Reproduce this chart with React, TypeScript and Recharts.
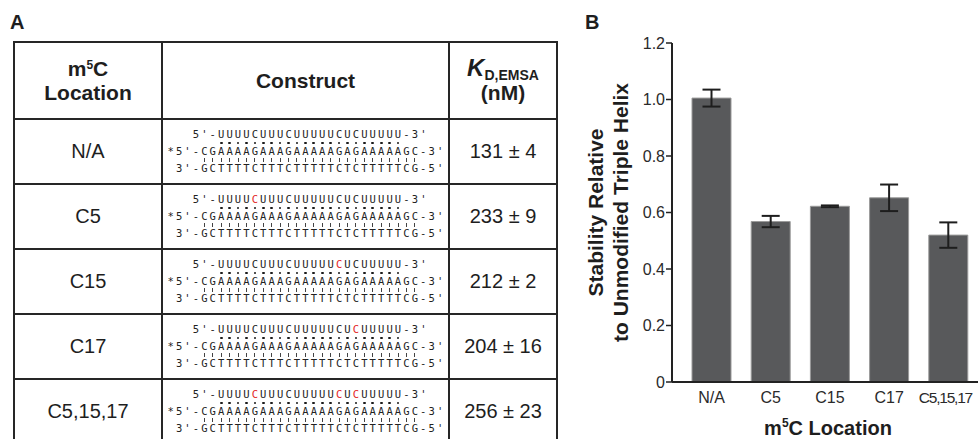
import { BarChart, Bar, XAxis, YAxis, ErrorBar, Label } from 'recharts'

// panel A table
const locations = ['N/A', 'C5', 'C15', 'C17', 'C5,15,17']
const kdMean = [131, 233, 212, 204, 256]
const kdErr = [4, 9, 2, 16, 23]
const m5cSites = [[], [5], [15], [17], [5, 15, 17]]

const hoogsteenStrand = 'UUUUCUUUCUUUUUCUCUUUUU'
const purineStrand = 'CGAAAAGAAAGAAAAAGAGAAAAAGC'
const bottomStrand = 'GCTTTTCTTTCTTTTTCTCTTTTTCG'

// panel B bars
const stability = [1.005, 0.568, 0.622, 0.652, 0.52]
const stabilityErr = [0.03, 0.02, 0.003, 0.047, 0.045]
const yTicks = [0, 0.2, 0.4, 0.6, 0.8, 1.0, 1.2]

const chartData = locations.map((loc, i) => ({ loc, value: stability[i], err: stabilityErr[i] }))

const SANS = '"Liberation Sans", Arial, Helvetica, sans-serif'
const MONO = '"DejaVu Sans Mono", monospace'
const INK = '#1e1e1e'
const RED = '#e3241d'
const CH = 8.43
const cellBorder = '2px solid #262626'

function Chars({ text, offset, red = [] }: { text: string; offset: number; red?: number[] }) {
  return (
    <div style={{ height: 11, lineHeight: '11px', display: 'flex', alignItems: 'center', marginLeft: offset * CH }}>
      {[...text].map((c, i) => (
        <span key={i} style={{ width: CH, flex: 'none', textAlign: 'center', color: red.includes(i) ? RED : '#222' }}>
          {c}
        </span>
      ))}
    </div>
  )
}

function Marks({ count, offset, kind }: { count: number; offset: number; kind: 'dot' | 'bar' }) {
  return (
    <div style={{ height: 6, display: 'flex', alignItems: 'center', marginLeft: offset * CH }}>
      {Array.from({ length: count }, (_, i) => (
        <span key={i} style={{ width: CH, flex: 'none', display: 'flex', justifyContent: 'center' }}>
          {kind === 'dot' ? (
            <span style={{ width: 2.7, height: 2.7, borderRadius: '50%', background: '#1a1a1a' }} />
          ) : (
            <span style={{ width: 1, height: 4, background: '#444' }} />
          )}
        </span>
      ))}
    </div>
  )
}

function Construct({ sites }: { sites: number[] }) {
  // site numbers are 1-based on the U strand, which sits after "5'-"
  const red = sites.map((s) => s - 1 + 3)
  return (
    <div style={{ width: 33 * CH, margin: '0 auto', fontFamily: MONO, fontSize: 10.5 }}>
      <Chars text={`5'-${hoogsteenStrand}-3'`} offset={3} red={red} />
      <Marks count={hoogsteenStrand.length} offset={6} kind="dot" />
      <Chars text={`*5'-${purineStrand}-3'`} offset={0} />
      <Marks count={purineStrand.length} offset={4} kind="bar" />
      <Chars text={`3'-${bottomStrand}-5'`} offset={1} />
    </div>
  )
}

function LocTick(props: any) {
  const { x, y, payload } = props
  const s = String(payload.value)
  const long = s.length > 5
  return (
    <text
      x={x - (long ? 3 : 0)}
      y={y}
      dy="0.71em"
      textAnchor="middle"
      fontSize={long ? 15.5 : 16}
      letterSpacing={long ? -1.2 : 0}
      fill="#2a2a2a"
    >
      {s}
    </text>
  )
}

function YTitle(props: any) {
  const { x, y, height } = props.viewBox
  const cy = y + height / 2
  const lines = ['Stability Relative', 'to Unmodified Triple Helix']
  return (
    <g>
      {lines.map((t, i) => {
        const cx = x + 25 + i * 25
        return (
          <text
            key={t}
            x={cx}
            y={cy}
            transform={`rotate(-90, ${cx}, ${cy})`}
            textAnchor="middle"
            dominantBaseline="central"
            fontSize={21}
            fontWeight="bold"
            fill={INK}
          >
            {t}
          </text>
        )
      })}
    </g>
  )
}

function XTitle(props: any) {
  const { x, y, width } = props.viewBox
  return (
    <text x={x + width / 2 + 3} y={y + 53} textAnchor="middle" fontSize={20} fontWeight="bold" fill={INK}>
      m<tspan fontSize={12} dy={-8}>5</tspan>
      <tspan dy={8}>C Location</tspan>
    </text>
  )
}

export default function App() {
  const th = { border: cellBorder, padding: 0, textAlign: 'center' as const, fontWeight: 'bold', fontSize: 21, lineHeight: '24px' }
  const td = { border: cellBorder, padding: 0, textAlign: 'center' as const, fontSize: 20 }
  return (
    <div
      style={{
        position: 'absolute',
        left: 0,
        top: 0,
        width: 978,
        height: 439,
        overflow: 'hidden',
        background: '#fff',
        fontFamily: SANS,
        color: INK,
      }}
    >
      <div style={{ position: 'absolute', left: 10, top: 12, fontSize: 20, fontWeight: 'bold', lineHeight: '20px' }}>A</div>
      <div style={{ position: 'absolute', left: 585, top: 12, fontSize: 20, fontWeight: 'bold', lineHeight: '20px' }}>B</div>

      <table
        style={{
          position: 'absolute',
          left: 13,
          top: 41,
          width: 545,
          borderCollapse: 'collapse',
          tableLayout: 'fixed',
        }}
      >
        <colgroup>
          <col style={{ width: 148 }} />
          <col style={{ width: 287 }} />
          <col style={{ width: 108 }} />
        </colgroup>
        <thead>
          <tr style={{ height: 77 }}>
            <th style={th}>
              m<sup style={{ fontSize: 12, verticalAlign: 7, lineHeight: 0 }}>5</sup>C
              <br />
              Location
            </th>
            <th style={th}>Construct</th>
            <th style={th}>
              <i style={{ fontSize: 24 }}>K</i>
              <sub style={{ fontSize: 14, verticalAlign: -4, lineHeight: 0 }}>D,EMSA</sub>
              <br />
              (nM)
            </th>
          </tr>
        </thead>
        <tbody>
          {locations.map((loc, i) => (
            <tr key={loc} style={{ height: 65 }}>
              <td style={td}>{loc}</td>
              <td style={td}>
                <Construct sites={m5cSites[i]} />
              </td>
              <td style={td}>
                {kdMean[i]} ± {kdErr[i]}
              </td>
            </tr>
          ))}
        </tbody>
      </table>

      <div style={{ position: 'absolute', left: 570, top: 0 }}>
        <BarChart width={408} height={439} data={chartData} margin={{ top: 43, right: 0, left: 0, bottom: 0 }}>
          <XAxis
            dataKey="loc"
            height={57}
            interval={0}
            padding={{ left: 10, right: 0 }}
            axisLine={{ stroke: '#222', strokeWidth: 2 }}
            tickLine={false}
            tickSize={6}
            tickMargin={4}
            tick={<LocTick />}
          >
            <Label content={<XTitle />} />
          </XAxis>
          <YAxis
            width={102}
            domain={[0, 1.2]}
            ticks={yTicks}
            interval={0}
            tickFormatter={(v: number) => (v === 0 ? '0' : v.toFixed(1))}
            axisLine={{ stroke: '#222', strokeWidth: 2 }}
            tickLine={{ stroke: '#222', strokeWidth: 1.5 }}
            tickSize={6}
            tickMargin={1}
            tick={{ fontSize: 16, fill: '#2a2a2a' }}
          >
            <Label content={<YTitle />} />
          </YAxis>
          <Bar dataKey="value" barSize={39} fill="#58595b" stroke="#9a9a9a" strokeWidth={1} isAnimationActive={false}>
            <ErrorBar dataKey="err" width={9} stroke="#1e1e1e" strokeWidth={2} />
          </Bar>
        </BarChart>
      </div>
    </div>
  )
}
